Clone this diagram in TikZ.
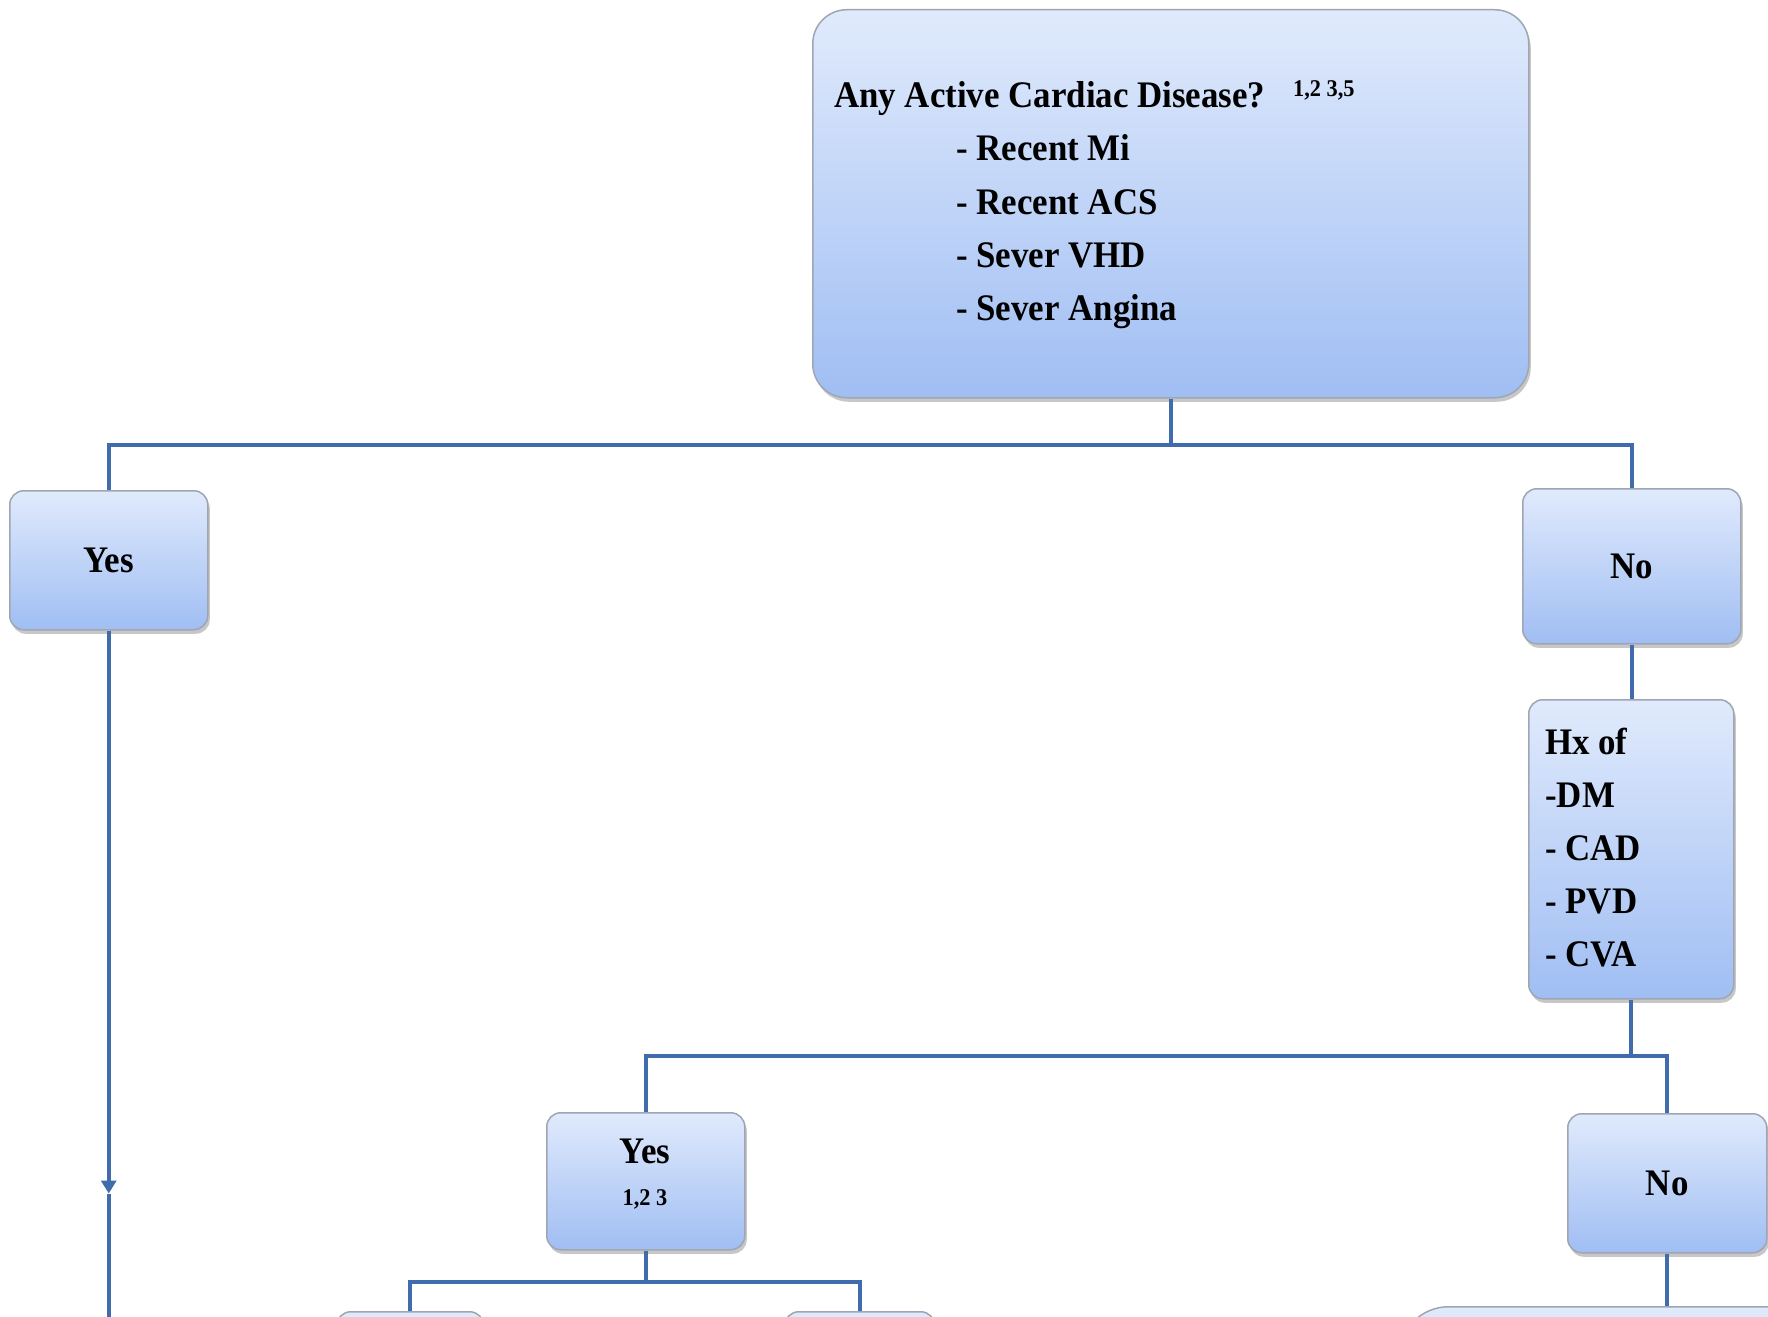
\documentclass[tikz,border=0pt]{standalone}
\usepackage{fontspec}
\setmainfont{Liberation Serif}
\newfontfamily\flowfont{Liberation Serif}[FakeStretch=0.93]
\usetikzlibrary{shadows,arrows.meta}

\definecolor{linkblue}{RGB}{64,108,174}
\definecolor{boxtop}{RGB}{224,234,252}
\definecolor{boxbottom}{RGB}{160,190,243}
\definecolor{boxedge}{RGB}{158,166,180}

\newcommand\flowbig{\flowfont\bfseries\fontsize{37.5}{45}\selectfont}
\newcommand\flowsmall{\flowfont\bfseries\fontsize{24}{28}\selectfont}

\tikzset{
  flowbox/.style={draw=boxedge, line width=1.5pt, rounded corners=14pt,
    top color=boxtop, bottom color=boxbottom,
    drop shadow={shadow xshift=2pt, shadow yshift=-4pt, opacity=0.4, fill=black!55},
    inner sep=0pt, anchor=north west, font=\flowbig},
  link/.style={draw=linkblue, line width=4pt},
  txt/.style={anchor=base west, inner sep=0pt, font=\flowbig},
  reftxt/.style={anchor=base west, inner sep=0pt, font=\flowsmall},
}

\begin{document}
\begin{tikzpicture}[x=1pt,y=-1pt]
  \useasboundingbox (0,0) rectangle (1768,1316);
  \fill[white] (0,0) rectangle (1768,1316);
  \clip (0,0) rectangle (1768,1316);

  % boxes
  \node[flowbox, rounded corners=34pt, minimum width=716pt, minimum height=388pt] (top) at (812,9) {};
  \node[flowbox, minimum width=198pt, minimum height=139pt] (yes1) at (9,490) {Yes};
  \node[flowbox, minimum width=218pt, minimum height=155pt] (no1) at (1522,488) {No};
  \node[flowbox, minimum width=205pt, minimum height=299pt] (hx) at (1528,699) {};
  \node[flowbox, minimum width=198pt, minimum height=137pt] (yes2) at (546,1112) {};
  \node[flowbox, minimum width=199pt, minimum height=139pt] (no2) at (1567,1113) {No};
  \node[flowbox, minimum width=147pt, minimum height=160pt] (c1) at (336,1311) {};
  \node[flowbox, minimum width=150pt, minimum height=160pt] (c2) at (784,1311) {};
  \node[flowbox, rounded corners=50pt, minimum width=700pt, minimum height=200pt] (c3) at (1398,1306) {};

  % question text
  \node[txt] (q0) at (834,108) {Any Active Cardiac Disease?};
  \node[reftxt] (q0ref) at (1293,97) {1,2 3,5};
  \node[txt] (q1) at (956,161) {- Recent Mi};
  \node[txt] (q2) at (956,214) {- Recent ACS};
  \node[txt] (q3) at (956,267) {- Sever VHD};
  \node[txt] (q4) at (956,320) {- Sever Angina};

  % history text
  \node[txt] (h0) at (1545,754) {Hx of};
  \node[txt] (h1) at (1545,807) {-DM};
  \node[txt] (h2) at (1545,860) {- CAD};
  \node[txt] (h3) at (1545,913) {- PVD};
  \node[txt] (h4) at (1545,966) {- CVA};

  % second yes text
  \node[anchor=center, inner sep=0pt, font=\flowbig] (y2a) at (645,1151) {Yes};
  \node[anchor=center, inner sep=0pt, font=\flowsmall] (y2b) at (645,1199) {1,2 3};

  % branching points
  \path (top.south) ++(0,46) coordinate (split1);
  \path (hx.south) ++(0,56) coordinate (split2);
  \path (yes2.south) ++(0,31) coordinate (split3);
  \path (yes1.south) ++(0,563) coordinate (arrowpt);
  \path (yes1.south) ++(0,720) coordinate (yesend);

  % connectors
  \draw[link] (top.south) -- (split1);
  \draw[link] (yes1.north) |- (split1) -| (no1.north);
  \draw[link] (no1.south) -- (no1.south |- hx.north);
  \draw[link] (hx.south) -- (split2);
  \draw[link] (yes2.north) |- (split2) -| (no2.north);
  \draw[link] (yes2.south) -- (split3);
  \draw[link] (c1.north) |- (split3) -| (c2.north);
  \draw[link] (no2.south) -- (no2.south |- c3.north);
  \draw[link, -{Triangle[width=15pt,length=13pt]}] (yes1.south) -- (arrowpt);
  \draw[link] (arrowpt) -- (yesend);
\end{tikzpicture}
\end{document}
